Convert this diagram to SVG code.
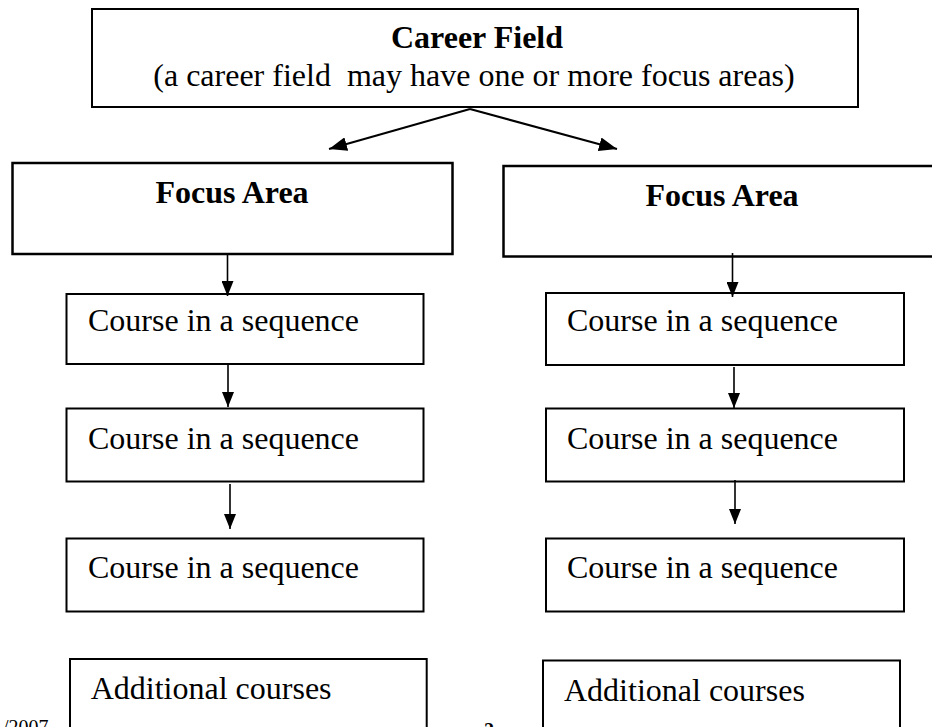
<svg xmlns="http://www.w3.org/2000/svg" width="932" height="727" viewBox="0 0 932 727">
<style>
.box{fill:#fff;stroke:#000;stroke-width:2}
.t{font-family:"Liberation Serif","Times New Roman",serif;font-size:32px;fill:#000}
.b{font-weight:bold}
.c{text-anchor:middle}
.con{stroke:#000;stroke-width:1.6;fill:none}
.small{font-family:"Liberation Serif","Times New Roman",serif;font-size:20px;fill:#000}
</style>
<defs>
<marker id="ah" markerUnits="userSpaceOnUse" markerWidth="15" markerHeight="12" refX="15" refY="6" orient="auto">
<path d="M0,0 L15,6 L0,12 z" fill="#000"/>
</marker>
<marker id="ahL" markerUnits="userSpaceOnUse" markerWidth="18" markerHeight="14" refX="18" refY="7" orient="auto">
<path d="M0,0 L18,7 L0,14 z" fill="#000"/>
</marker>
</defs>
<rect width="932" height="727" fill="#fff"/>
<g id="career">
<rect class="box" x="92" y="9" width="766" height="98"/>
<text class="t b c" x="477" y="48">Career Field</text>
<text class="t c" x="474" y="86" xml:space="preserve">(a career field  may have one or more focus areas)</text>
</g>
<g id="focusL">
<rect class="box" x="12.5" y="163" width="440" height="91" style="stroke-width:2.5"/>
<text class="t b c" x="232" y="203">Focus Area</text>
</g>
<g id="focusR">
<rect class="box" x="503.5" y="166" width="440" height="90.5" style="stroke-width:2.5"/>
<text class="t b c" x="722" y="206">Focus Area</text>
</g>
<g id="courseL1">
<rect class="box" x="66.5" y="294" width="357" height="70"/>
<text class="t" x="88" y="331">Course in a sequence</text>
</g>
<g id="courseR1">
<rect class="box" x="546" y="293" width="358" height="72"/>
<text class="t" x="567" y="331">Course in a sequence</text>
</g>
<g id="courseL2">
<rect class="box" x="66.5" y="408.5" width="357" height="73"/>
<text class="t" x="88" y="449">Course in a sequence</text>
</g>
<g id="courseR2">
<rect class="box" x="546" y="408.5" width="358" height="73"/>
<text class="t" x="567" y="449">Course in a sequence</text>
</g>
<g id="courseL3">
<rect class="box" x="66.5" y="538.5" width="357" height="73"/>
<text class="t" x="88" y="578">Course in a sequence</text>
</g>
<g id="courseR3">
<rect class="box" x="546" y="538.5" width="358" height="73"/>
<text class="t" x="567" y="578">Course in a sequence</text>
</g>
<g id="addL">
<rect class="box" x="70" y="659" width="356.7" height="100"/>
<text class="t" x="90.7" y="699">Additional courses</text>
</g>
<g id="addR">
<rect class="box" x="543" y="660.5" width="357" height="100"/>
<text class="t" x="564" y="701">Additional courses</text>
</g>
<g id="connectors">
<line class="con" style="stroke-width:2" x1="470" y1="109" x2="329" y2="149" marker-end="url(#ahL)"/>
<line class="con" style="stroke-width:2" x1="470" y1="109" x2="617" y2="149" marker-end="url(#ahL)"/>
<line class="con" x1="227.5" y1="254" x2="227.5" y2="296" marker-end="url(#ah)"/>
<line class="con" x1="228" y1="365" x2="228" y2="407" marker-end="url(#ah)"/>
<line class="con" x1="230" y1="484" x2="230" y2="529" marker-end="url(#ah)"/>
<line class="con" x1="732.5" y1="253" x2="732.5" y2="297" marker-end="url(#ah)"/>
<line class="con" x1="734" y1="367" x2="734" y2="408" marker-end="url(#ah)"/>
<line class="con" x1="735" y1="480" x2="735" y2="524" marker-end="url(#ah)"/>
</g>
<text class="small" x="3" y="734">/2007</text>
<text class="small b" x="484" y="737">2</text>
</svg>
